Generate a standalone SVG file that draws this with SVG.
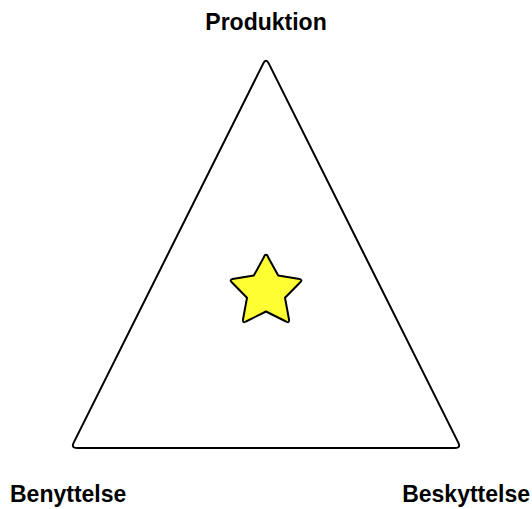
<svg xmlns="http://www.w3.org/2000/svg" width="532" height="509" viewBox="0 0 532 509">
<style>
.lbl{font-family:"Liberation Sans",Arial,sans-serif;font-weight:bold;font-size:23px;fill:#000}
.shape{stroke:#000;stroke-width:2;stroke-linejoin:round}
</style>
<rect width="532" height="509" fill="#fff"/>
<g id="triangle">
<path class="shape" fill="#fff" d="M 263.3,63.4 L 73.7,442.6 Q 71,448 77,448 L 455,448 Q 461,448 458.3,442.6 L 268.7,63.4 Q 266,58 263.3,63.4 Z"/>
</g>
<g id="star">
<path class="shape" fill="#ffff33" d="M 266,255 Q 267,254 268,257 L 278.2,275.6 L 299.5,279 Q 303,280 300,282.5 L 285,297.8 L 289,319.5 Q 289.5,323.5 286,321.5 L 266,311.5 L 246,321.5 Q 242.5,323.5 243,319.5 L 247,297.8 L 232,282.5 Q 229,280 232.5,279 L 253.8,275.6 L 264,257 Q 265,254 266,255 Z"/>
</g>
<g id="produktion"><text class="lbl" x="266" y="30" text-anchor="middle">Produktion</text></g>
<g id="benyttelse"><text class="lbl" x="10" y="502">Benyttelse</text></g>
<g id="beskyttelse"><text class="lbl" x="530" y="502" text-anchor="end">Beskyttelse</text></g>
</svg>
